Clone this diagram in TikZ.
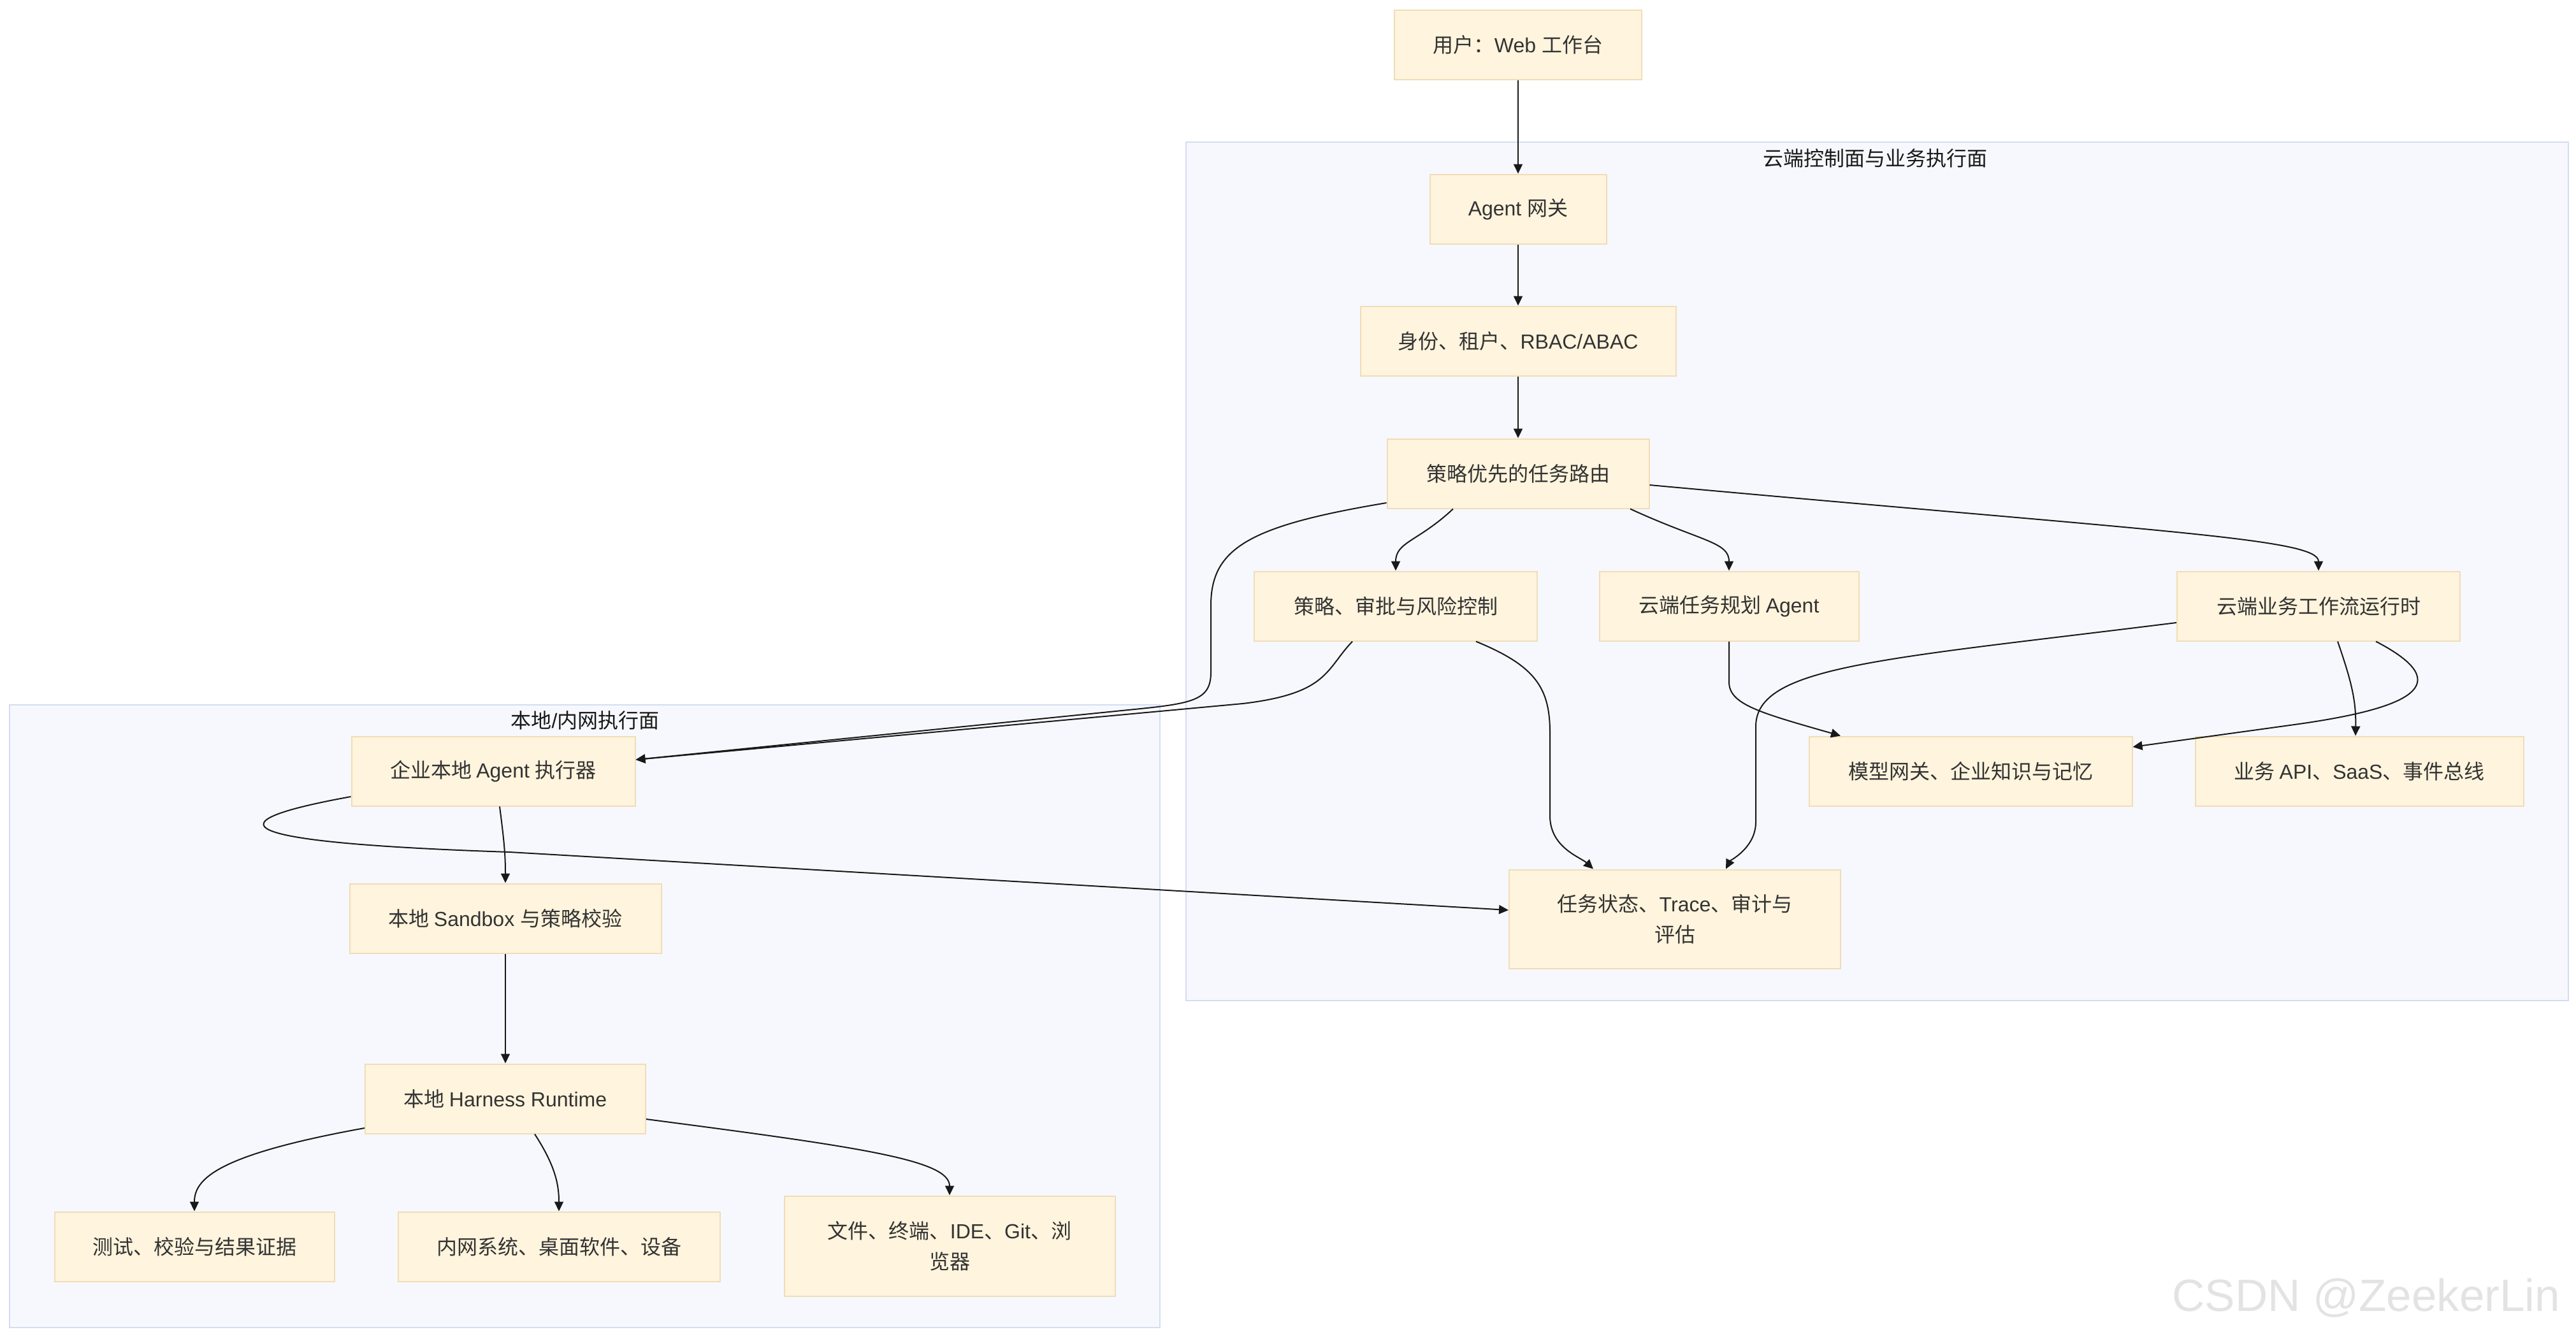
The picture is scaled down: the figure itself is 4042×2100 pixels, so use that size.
\documentclass[tikz,border=0pt]{standalone}
\usepackage{fontspec}
\setmainfont{Liberation Sans}
\newfontfamily\cjkfont{Noto Sans CJK SC}
\usetikzlibrary{arrows.meta}
\definecolor{boxfill}{HTML}{FFF4DD}
\definecolor{boxline}{HTML}{EEDDB8}
\definecolor{areafill}{HTML}{F7F8FD}
\definecolor{arealine}{HTML}{D4DDF2}
\definecolor{textgray}{HTML}{333333}
\tikzstyle{area} = [fill=areafill,draw=arealine,line width=1pt]
% Han characters and CJK punctuation get their own font
\makeatletter
\count@="3000
\loop\ifnum\count@<"3040 \XeTeXcharclass\count@=1 \advance\count@ by 1 \repeat
\count@="4E00
\loop\ifnum\count@<"A000 \XeTeXcharclass\count@=1 \advance\count@ by 1 \repeat
\count@="FF00
\loop\ifnum\count@<"FFF0 \XeTeXcharclass\count@=1 \advance\count@ by 1 \repeat
\makeatother
\XeTeXinterchartoks 0 1 = {\cjkfont}
\XeTeXinterchartoks 4095 1 = {\cjkfont}
\XeTeXinterchartoks 1 0 = {\rmfamily}
\XeTeXinterchartoks 4095 0 = {\rmfamily}
\XeTeXinterchartokenstate=1

\begin{document}
\begin{tikzpicture}
		[
		x=0.5pt,y=-0.5pt,
		>={Triangle[length=7.5pt,width=7pt]},
		block/.style={
		draw=boxline,
		fill=boxfill,
		line width=1pt,
		rectangle,
		minimum height=54.5pt,
		text=textgray,
		align=center,
		font=\cjkfont\fontsize{16}{24}\selectfont},
		title/.style={text=black!90,font=\cjkfont\fontsize{16}{24}\selectfont},
		link/.style={->,line width=1pt,draw=black!90}
		]
		\useasboundingbox (0,0) rectangle (4042,2100);
		\draw[area] (1861,223) rectangle (4030,1570);
		\draw[area] (15,1106) rectangle (1820,2083);
		\node[title] (cloudtitle) at (2942,248) {云端控制面与业务执行面};
		\node[title] (localtitle) at (918,1130) {本地/内网执行面};

		\node[block,minimum width=194pt] (user) at (2382,70) {用户：Web 工作台};
		\node[block,minimum width=138.5pt] (gw) at (2382,328) {Agent 网关};
		\node[block,minimum width=247.5pt] (ident) at (2382,535) {身份、租户、RBAC/ABAC};
		\node[block,minimum width=205.5pt] (route) at (2382,743) {策略优先的任务路由};
		\node[block,minimum width=222pt] (risk) at (2190,951) {策略、审批与风险控制};
		\node[block,minimum width=203.5pt] (plan) at (2713,951) {云端任务规划 Agent};
		\node[block,minimum width=222pt] (flow) at (3638,951) {云端业务工作流运行时};
		\node[block,minimum width=253.5pt] (model) at (3092,1210) {模型网关、企业知识与记忆};
		\node[block,minimum width=257.5pt] (bizapi) at (3702,1210) {业务 API、SaaS、事件总线};
		\node[block,minimum width=260pt,minimum height=77.5pt] (state) at (2628,1442) {任务状态、Trace、审计与\\评估};
		\node[block,minimum width=222.5pt] (exec) at (774,1210) {企业本地 Agent 执行器};
		\node[block,minimum width=244.5pt] (sandbox) at (793,1441) {本地 Sandbox 与策略校验};
		\node[block,minimum width=220pt] (harness) at (793,1724) {本地 Harness Runtime};
		\node[block,minimum width=219.5pt] (tests) at (305,1956) {测试、校验与结果证据};
		\node[block,minimum width=252.5pt] (intra) at (877,1956) {内网系统、桌面软件、设备};
		\node[block,minimum width=259.5pt,minimum height=78.5pt] (files) at (1490,1955) {文件、终端、IDE、Git、浏\\览器};

		\draw[link] (user) -- (gw);
		\draw[link] (gw) -- (ident);
		\draw[link] (ident) -- (route);
		\draw[link] ([xshift=-51pt]route.south) .. controls (2225,850) and (2190,850) .. (risk.north);
		\draw[link] ([xshift=88pt]route.south) .. controls (2670,850) and (2713,850) .. (plan.north);
		\draw[link] ([yshift=-9pt]route.east) .. controls (3400,835) and (3638,845) .. (flow.north);
		\draw[link] ([yshift=-23pt]route.west) .. controls (1960,825) and (1900,860) .. (1900,950) -- (1900,1055)
			.. controls (1900,1100) and (1870,1104) .. (1770,1114) -- ([yshift=9pt]exec.east);
		\draw[link] ([xshift=-34pt]risk.south) .. controls (2080,1050) and (2085,1088) .. (1950,1104) -- ([yshift=9pt]exec.east);
		\draw[link] ([xshift=63pt]risk.south) .. controls (2410,1045) and (2432,1080) .. (2432,1150) -- (2432,1280)
			.. controls (2432,1330) and (2480,1345) .. ([xshift=-64pt]state.north);
		\draw[link] (plan.south) -- (2713,1070) .. controls (2713,1105) and (2760,1118) .. ([xshift=-102pt]model.north);
		\draw[link] ([yshift=-13pt]flow.west) .. controls (2950,1035) and (2755,1045) .. (2755,1140) -- (2755,1290)
			.. controls (2755,1330) and (2715,1350) .. ([xshift=40pt]state.north);
		\draw[link] ([xshift=15pt]flow.south) .. controls (3690,1070) and (3697,1100) .. ([xshift=-3pt]bizapi.north);
		\draw[link] ([xshift=45pt]flow.south) .. controls (3860,1075) and (3780,1112) .. (3600,1137) -- ([yshift=19pt]model.east);
		\draw[link] ([yshift=-20pt]exec.west) .. controls (330,1290) and (350,1322) .. (800,1337) -- ([yshift=7pt]state.west);
		\draw[link] ([xshift=5pt]exec.south) .. controls (791,1320) and (793,1340) .. (sandbox.north);
		\draw[link] (sandbox) -- (harness);
		\draw[link] ([yshift=-23pt]harness.west) .. controls (340,1812) and (305,1850) .. (tests.north);
		\draw[link] ([xshift=23pt]harness.south) .. controls (872,1830) and (877,1860) .. (intra.north);
		\draw[link] ([yshift=-16pt]harness.east) .. controls (1350,1800) and (1490,1820) .. (files.north);

		\node[anchor=west,inner sep=0pt,text=black!11,font=\rmfamily\fontsize{35.5}{36}\selectfont] (mark) at (3408,2037) {CSDN @ZeekerLin};
		\end{tikzpicture}
\end{document}
